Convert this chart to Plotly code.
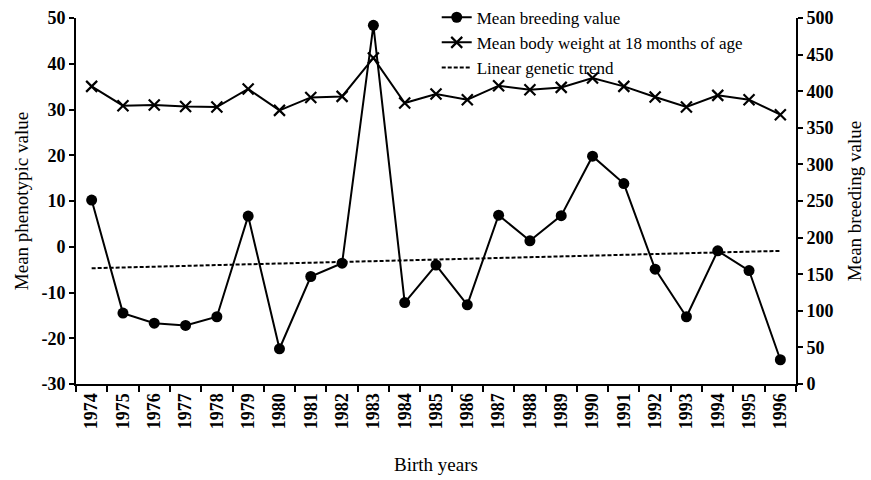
import plotly.graph_objects as go

years = [str(y) for y in range(1974, 1997)]
breeding_value = [10.2, -14.5, -16.7, -17.2, -15.3, 6.7, -22.3, -6.5, -3.6, 48.4,
                  -12.2, -4.0, -12.7, 6.9, 1.3, 6.8, 19.8, 13.8, -4.9, -15.3,
                  -0.9, -5.2, -24.7]
body_weight = [406.6, 380.2, 381.1, 379.2, 378.4, 403.0, 373.8, 391.5, 392.9, 445.4,
               383.9, 396.2, 388.4, 407.5, 402.0, 405.2, 418.0, 406.6, 392.0, 378.4,
               394.3, 388.4, 367.9]
trend_years = ["1974", "1996"]
trend_values = [-4.7, -0.9]
left_ticks = [-30, -20, -10, 0, 10, 20, 30, 40, 50]
left_tick_labels = ["-30", "-20", "-10", "0", "10", "20", "30", "40", "50"]

FONT = "Liberation Serif"

fig = go.Figure()
fig.add_trace(go.Scatter(
    x=years, y=breeding_value, name="Mean breeding value", mode="lines+markers",
    line=dict(color="black", width=2),
    marker=dict(symbol="circle", size=11, color="black"),
))
fig.add_trace(go.Scatter(
    x=years, y=body_weight, name="Mean body weight at 18 months of age", mode="lines+markers",
    yaxis="y2",
    line=dict(color="black", width=2),
    marker=dict(symbol="x-thin", size=11, color="black", line=dict(color="black", width=2.2)),
))
fig.add_trace(go.Scatter(
    x=trend_years, y=trend_values, name="Linear genetic trend", mode="lines",
    line=dict(color="black", width=2, dash="4px,2px"),
))

fig.update_layout(
    width=871, height=480,
    margin=dict(l=76, r=75, t=18, b=96, autoexpand=False),
    paper_bgcolor="white", plot_bgcolor="white",
    font=dict(family=FONT, color="black", size=18),
    showlegend=True,
    legend=dict(x=0.501, y=1.05, xanchor="left", yanchor="top",
                bgcolor="rgba(0,0,0,0)", font=dict(family=FONT, size=17),
                itemwidth=30, tracegroupgap=0),
    xaxis=dict(
        type="category", range=[-0.5, 22.5], tickangle=-90,
        showline=True, linecolor="black", linewidth=2,
        ticks="outside", ticklen=6, tickwidth=2, tickcolor="black",
        tickson="boundaries",
        tickfont=dict(family=FONT, size=18, weight="bold"),
        showgrid=False, zeroline=False,
        title=dict(text="Birth years", font=dict(family=FONT, size=19), standoff=29),
    ),
    yaxis=dict(
        range=[-30, 50], tickmode="array", tickvals=left_ticks, ticktext=left_tick_labels,
        showline=True, linecolor="black", linewidth=2,
        ticks="outside", ticklen=5, tickwidth=2, tickcolor="black",
        tickfont=dict(family=FONT, size=18, weight="bold"),
        showgrid=False, zeroline=False,
        title=dict(text="Mean phenotypic value", font=dict(family=FONT, size=19), standoff=8),
    ),
    yaxis2=dict(
        overlaying="y", side="right", anchor="x",
        range=[0, 500], dtick=50, tick0=0,
        showline=True, linecolor="black", linewidth=2,
        ticks="outside", ticklen=5, tickwidth=2, tickcolor="black",
        tickfont=dict(family=FONT, size=18, weight="bold"),
        showgrid=False, zeroline=False,
        title=dict(text="Mean breeding value", font=dict(family=FONT, size=19), standoff=15),
    ),
)

fig.write_html("out.html",
               config={"displayModeBar": False},
               post_script="document.body.style.margin='0';document.body.style.overflow='hidden';")
